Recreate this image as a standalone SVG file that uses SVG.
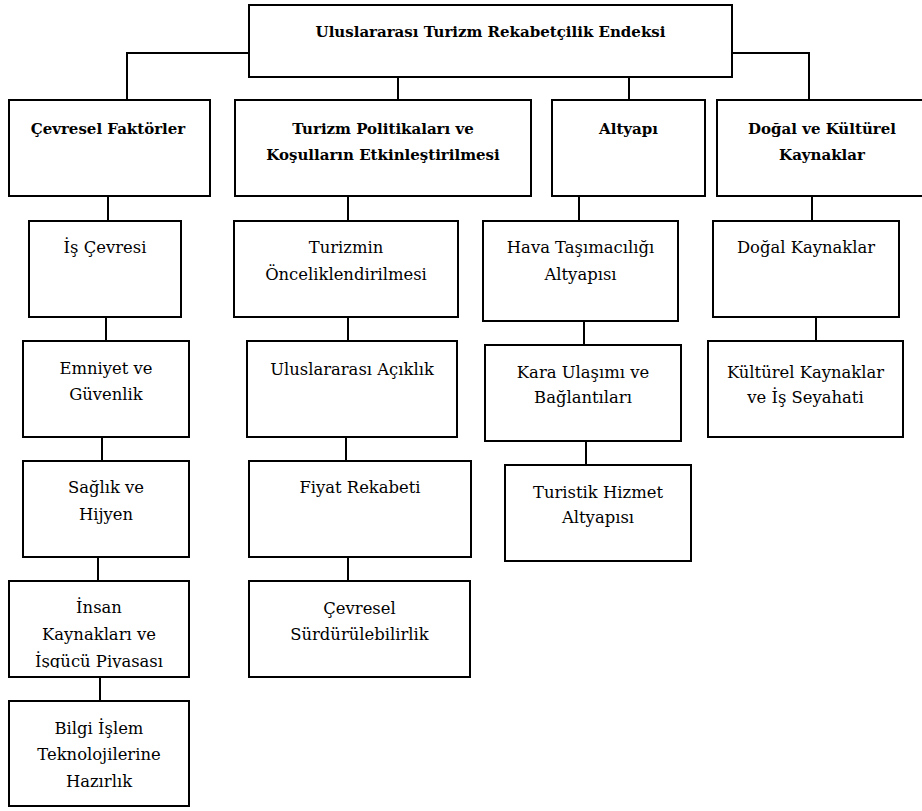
<svg xmlns="http://www.w3.org/2000/svg" width="922" height="811" viewBox="0 0 922 811">
<style>
.box{fill:#fff;stroke:#000;stroke-width:2}
.ln{fill:none;stroke:#000;stroke-width:2}
text{font-family:"DejaVu Serif","Liberation Serif",serif;font-size:16.4px;fill:#000;text-anchor:middle}
.b{font-weight:bold;font-size:15px}
</style>
<defs>
<clipPath id="clipIK"><rect x="0" y="570" width="200" height="98"/></clipPath>
</defs>
<rect width="922" height="811" fill="#fff"/>
<g id="connectors">
<path class="ln" d="M249,53 H127 V100"/>
<path class="ln" d="M398,77 V100"/>
<path class="ln" d="M629,77 V100"/>
<path class="ln" d="M732,53 H809 V100"/>
<path class="ln" d="M108,196 V221"/>
<path class="ln" d="M106,317 V341"/>
<path class="ln" d="M102,437 V461"/>
<path class="ln" d="M98,557 V581"/>
<path class="ln" d="M100,677 V701"/>
<path class="ln" d="M348,196 V221"/>
<path class="ln" d="M348,317 V341"/>
<path class="ln" d="M346,437 V461"/>
<path class="ln" d="M348,557 V581"/>
<path class="ln" d="M579,196 V221"/>
<path class="ln" d="M584,321 V345"/>
<path class="ln" d="M586,441 V465"/>
<path class="ln" d="M812,196 V221"/>
<path class="ln" d="M816,317 V341"/>
</g>
<g id="n-root"><rect class="box" x="249" y="5" width="483" height="72"/><text class="b" x="490.5" y="37">Uluslararası Turizm Rekabetçilik Endeksi</text></g>
<g id="n-cevresel"><rect class="box" x="9" y="100" width="201" height="96"/><text class="b" x="108" y="134">Çevresel Faktörler</text></g>
<g id="n-politika"><rect class="box" x="235" y="100" width="296" height="96"/><text class="b" x="383" y="134">Turizm Politikaları ve</text><text class="b" x="383" y="160">Koşulların Etkinleştirilmesi</text></g>
<g id="n-altyapi"><rect class="box" x="552" y="100" width="153" height="96"/><text class="b" x="628.5" y="134">Altyapı</text></g>
<g id="n-dogal"><rect class="box" x="717" y="100" width="210" height="96"/><text class="b" x="822" y="134">Doğal ve Kültürel</text><text class="b" x="822" y="160">Kaynaklar</text></g>

<g id="n-is"><rect class="box" x="29" y="221" width="152" height="96"/><text x="105" y="253">İş Çevresi</text></g>
<g id="n-emniyet"><rect class="box" x="23" y="341" width="166" height="96"/><text x="106" y="374">Emniyet ve</text><text x="106" y="400">Güvenlik</text></g>
<g id="n-saglik"><rect class="box" x="23" y="461" width="166" height="96"/><text x="106" y="493">Sağlık ve</text><text x="106" y="520">Hijyen</text></g>
<g id="n-insan"><rect class="box" x="9" y="581" width="180" height="96"/><text x="99" y="613">İnsan</text><text x="99" y="640">Kaynakları ve</text><text x="99" y="667" clip-path="url(#clipIK)">İşgücü Piyasası</text></g>
<g id="n-bilgi"><rect class="box" x="9" y="701" width="180" height="105"/><text x="99" y="734">Bilgi İşlem</text><text x="99" y="760">Teknolojilerine</text><text x="99" y="787">Hazırlık</text></g>

<g id="n-oncelik"><rect class="box" x="234" y="221" width="224" height="96"/><text x="346" y="253">Turizmin</text><text x="346" y="280">Önceliklendirilmesi</text></g>
<g id="n-aciklik"><rect class="box" x="247" y="341" width="210" height="96"/><text x="352" y="375">Uluslararası Açıklık</text></g>
<g id="n-fiyat"><rect class="box" x="249" y="461" width="222" height="96"/><text x="360" y="493">Fiyat Rekabeti</text></g>
<g id="n-surdur"><rect class="box" x="249" y="581" width="221" height="96"/><text x="359.5" y="614">Çevresel</text><text x="359.5" y="640">Sürdürülebilirlik</text></g>

<g id="n-hava"><rect class="box" x="483" y="221" width="195" height="100"/><text x="580.5" y="253">Hava Taşımacılığı</text><text x="580.5" y="280">Altyapısı</text></g>
<g id="n-kara"><rect class="box" x="485" y="345" width="196" height="96"/><text x="583" y="378">Kara Ulaşımı ve</text><text x="583" y="403">Bağlantıları</text></g>
<g id="n-turistik"><rect class="box" x="505" y="465" width="186" height="96"/><text x="598" y="498">Turistik Hizmet</text><text x="598" y="523">Altyapısı</text></g>

<g id="n-dogalk"><rect class="box" x="713" y="221" width="186" height="96"/><text x="806" y="253">Doğal Kaynaklar</text></g>
<g id="n-kultur"><rect class="box" x="708" y="341" width="195" height="96"/><text x="805.5" y="378">Kültürel Kaynaklar</text><text x="805.5" y="403">ve İş Seyahati</text></g>
</svg>
